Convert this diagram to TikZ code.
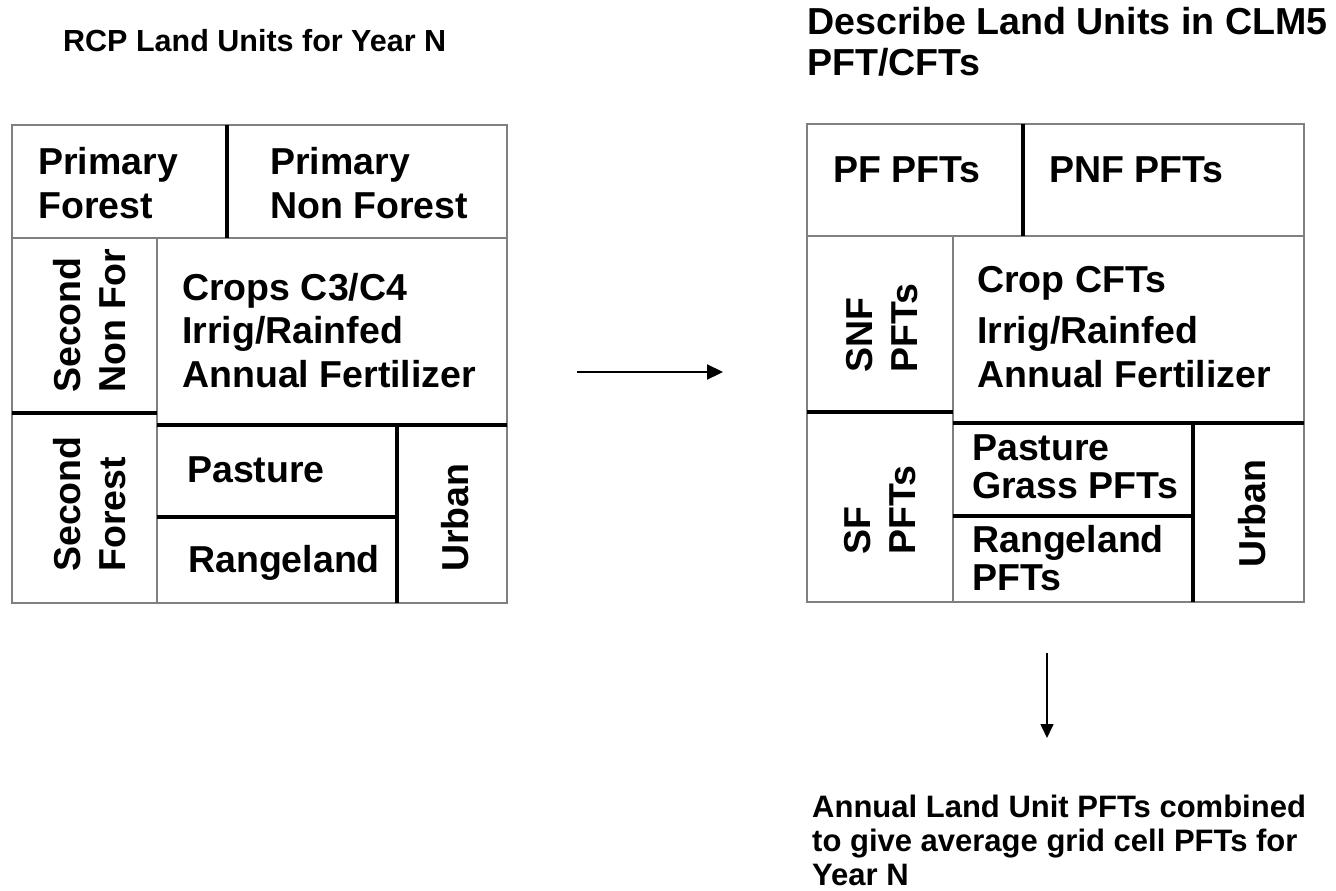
\documentclass[tikz,border=0pt]{standalone}
\usepackage{fontspec}
\setmainfont{Liberation Sans}
\usetikzlibrary{arrows.meta}
\begin{document}
\begin{tikzpicture}[x=1pt,y=-1pt,
  thinline/.style={draw=black!50,line width=1.6pt},
  thickline/.style={draw=black,line width=4pt},
  boxtext/.style={inner sep=0pt,align=left,font=\bfseries\fontsize{37.5}{43.5}\selectfont},
  vtext/.style={boxtext,rotate=90,anchor=base west},
  htext/.style={boxtext,anchor=base west},
  title/.style={inner sep=0pt,align=left,anchor=base west},
  arrowline/.style={draw=black}]
\useasboundingbox (0,0) rectangle (1336,891);
% ---------- titles (anchors at the last line's baseline)
\node[title,font=\bfseries\fontsize{30.5}{36}\selectfont] (t1) at (63,52) {RCP Land Units for Year N};
\node[title,font=\bfseries\fontsize{37.6}{40}\selectfont] (t2) at (807,75) {Describe Land Units in CLM5\\PFT/CFTs};
\node[title,font=\bfseries\fontsize{31}{34}\selectfont] (t3) at (812,885) {Annual Land Unit PFTs combined\\to give average grid cell PFTs for\\Year N};
% ---------- left box
\draw[thinline] (12,125) rectangle (507,603);
\draw[thinline] (12,238) -- (507,238);
\draw[thinline] (157,238) -- (157,603);
\draw[thickline] (227,125) -- (227,238);
\draw[thickline] (12,413) -- (157,413);
\draw[thickline] (157,425) -- (507,425);
\draw[thickline] (397,425) -- (397,603);
\draw[thickline] (157,517) -- (397,517);
\node[htext] (lpf) at (38,218) {Primary\\Forest};
\node[htext] (lpnf) at (270,218) {Primary\\Non Forest};
\node[vtext,font=\bfseries\fontsize{37.5}{45}\selectfont] (lsnf) at (125,393) {Second\\Non For};
\node[vtext,font=\bfseries\fontsize{37.5}{45}\selectfont] (lsf) at (125,572) {Second\\Forest};
\node[htext] (lcrop) at (182,387) {Crops C3/C4\\Irrig/Rainfed\\Annual Fertilizer};
\node[htext] (lpast) at (187,482) {Pasture};
\node[htext] (lrange) at (188,572) {Rangeland};
\node[vtext] (lurban) at (468,572) {Urban};
% ---------- right box
\draw[thinline] (807,124) rectangle (1304,602);
\draw[thinline] (807,236) -- (1304,236);
\draw[thinline] (953,236) -- (953,602);
\draw[thickline] (1023,124) -- (1023,236);
\draw[thickline] (807,412) -- (953,412);
\draw[thickline] (953,423) -- (1304,423);
\draw[thickline] (1193,423) -- (1193,602);
\draw[thickline] (953,516) -- (1193,516);
\node[htext] (rpf) at (833,182) {PF PFTs};
\node[htext] (rpnf) at (1049,182) {PNF PFTs};
\node[vtext,font=\bfseries\fontsize{37.5}{45}\selectfont] (rsnf) at (917,373) {SNF\\PFTs};
\node[vtext,font=\bfseries\fontsize{37.5}{45}\selectfont] (rsf) at (915,555) {SF\\PFTs};
\node[htext] (rcrop) at (977,387) {Crop CFTs\\[8pt]Irrig/Rainfed\\Annual Fertilizer};
\node[htext,font=\bfseries\fontsize{37.5}{38}\selectfont] (rpast) at (972,498) {Pasture\\Grass PFTs};
\node[htext,font=\bfseries\fontsize{37.5}{38}\selectfont] (rrange) at (972,590) {Rangeland\\PFTs};
\node[vtext] (rurban) at (1265,568) {Urban};
% ---------- arrows
\coordinate (h1) at (577,372);
\coordinate (h2) at (723,372);
\draw[arrowline,line width=2.2pt,-{Triangle[length=16pt,width=15pt]}] (h1) -- (h2);
\coordinate (v1) at (1047,653);
\coordinate (v2) at (1047,738);
\draw[arrowline,line width=1.6pt,-{Triangle[length=14pt,width=13pt]}] (v1) -- (v2);
\end{tikzpicture}
\end{document}
